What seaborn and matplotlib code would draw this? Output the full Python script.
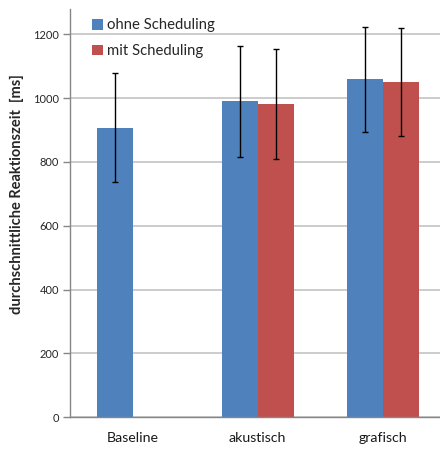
import numpy as np
import pandas as pd
import matplotlib
matplotlib.use("Agg")
import matplotlib.pyplot as plt
import seaborn as sns

# Mean reaction times and standard deviations (ms)
categories = ["Baseline", "akustisch", "grafisch"]
series = ["ohne Scheduling", "mit Scheduling"]
ohne_mean = [908, 990, 1059]
ohne_sd = [172, 175, 165]
mit_mean = [np.nan, 981, 1052]
mit_sd = [np.nan, 172, 169]
y_ticks = [0, 200, 400, 600, 800, 1000, 1200]

colors = ["#4F81BD", "#C0504D"]

df = pd.DataFrame({
    "Bedingung": categories * 2,
    "Gruppe": [series[0]] * 3 + [series[1]] * 3,
    "Zeit": ohne_mean + mit_mean,
    "SD": ohne_sd + mit_sd,
}).dropna()

sns.set_style("white")
plt.rcParams["font.family"] = ["Lato", "DejaVu Sans"]

fig = plt.figure(figsize=(4.40, 4.53), dpi=100)
ax = fig.add_axes([70 / 440, 1 - 417 / 453, 375 / 440, 408 / 453])

sns.barplot(data=df, x="Bedingung", y="Zeit", hue="Gruppe",
            order=categories, hue_order=series, palette=colors,
            width=0.576, errorbar=None, saturation=1, ax=ax,
            edgecolor="none", linewidth=0, zorder=2)

# Error bars centred on each drawn bar
sd_lookup = {(c, s): d for c, s, d in zip(df["Bedingung"], df["Gruppe"], df["SD"])}
for patch in ax.patches:
    h = patch.get_height()
    if not np.isfinite(h) or h == 0:
        continue
    xc = patch.get_x() + patch.get_width() / 2
    ci = int(round(xc))
    grp = series[0] if xc < ci else series[1]
    err = sd_lookup.get((categories[ci], grp))
    if err is None:
        continue
    ax.errorbar(xc, h, yerr=err, fmt="none", ecolor="black",
                elinewidth=1, capsize=2.2, capthick=1, zorder=3)

ax.set_xlim(-0.5, 2.5)
ax.set_ylim(0, 1280)
ax.set_yticks(y_ticks)
ax.set_yticklabels([str(t) for t in y_ticks], fontsize=8, color="#262626")
ax.yaxis.grid(True, color="#c4c4c4", linewidth=1.2, zorder=0)
ax.set_axisbelow(True)

ax.set_xticks(range(len(categories)))
ax.set_xticklabels(categories, fontsize=10.2, color="#1a1a1a")
ax.tick_params(axis="x", which="major", length=0, pad=10.5)
ax.set_xticks([-0.5, 0.5, 1.5], minor=True)
ax.tick_params(axis="x", which="minor", length=5, color="#868686", width=1)
ax.tick_params(axis="y", length=5, color="#868686", width=1, pad=3, left=True)

for side in ["top", "right"]:
    ax.spines[side].set_visible(False)
for side in ["left", "bottom"]:
    ax.spines[side].set_color("#868686")
    ax.spines[side].set_linewidth(1)

ax.set_xlabel("")
ax.set_ylabel("")
fig.text(17 / 440, 1 - 194 / 453, "durchschnittliche Reaktionszeit  [ms]",
         rotation=90, ha="center", va="center", fontsize=10.5, fontweight="bold")

leg = ax.legend(loc="upper left", bbox_to_anchor=(0.022, 1.01), frameon=False,
                fontsize=10.7, handlelength=0.75, handleheight=0.75,
                handletextpad=0.3, labelspacing=0.8)

fig.savefig("out.png", dpi=100)
